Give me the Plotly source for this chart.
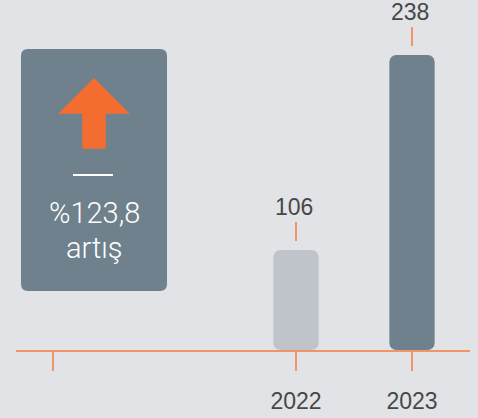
import plotly.graph_objects as go

# ---- data ----
categories = ["2022", "2023"]
values = [106, 238]
value_labels = ["106", "238"]
bar_colors = ["#bfc4ca", "#6e818d"]
tick_positions = [-2.095, 0, 1]
tick_labels = ["", "2022", "2023"]
change_label = "%123,8"
change_word = "artış"
Y_MIN = 38.3
Y_MAX = 275.2
X_RANGE = [-2.414, 1.5]

# ---- style ----
W, H = 478, 418
BG = "#e2e3e7"
ORANGE_LINE = "#f0956a"
ARROW = "#f36d30"
TEXT = "#474747"
SLATE = "#6e818d"
FONT = "Liberation Sans, Arial, sans-serif"


def px(x):
    return x / W


def py(y):
    return 1 - y / H


def rrect(x0, y0, x1, y1, r):
    pts = [
        ("M", [(x0 + r, y0)]), ("L", [(x1 - r, y0)]), ("Q", [(x1, y0), (x1, y0 + r)]),
        ("L", [(x1, y1 - r)]), ("Q", [(x1, y1), (x1 - r, y1)]), ("L", [(x0 + r, y1)]),
        ("Q", [(x0, y1), (x0, y1 - r)]), ("L", [(x0, y0 + r)]), ("Q", [(x0, y0), (x0 + r, y0)]),
    ]
    s = ""
    for cmd, ps in pts:
        s += cmd + " " + " ".join(f"{px(a):.5f},{py(b):.5f}" for a, b in ps) + " "
    return s + "Z"


def poly(points):
    return "M " + " L ".join(f"{px(a):.5f},{py(b):.5f}" for a, b in points) + " Z"


fig = go.Figure(
    go.Bar(
        x=categories,
        y=[v - Y_MIN for v in values],
        base=Y_MIN,
        marker=dict(color=bar_colors, line=dict(width=0), cornerradius=7),
        width=0.39,
        hoverinfo="skip",
    )
)

shapes = []
annotations = []

# value labels with small orange connectors (category index on the x axis)
for i, (v, lab) in enumerate(zip(values, value_labels)):
    shapes.append(dict(
        type="line", xref="x", yref="y", ysizemode="pixel", yanchor=v,
        x0=i, x1=i, y0=9, y1=28,
        line=dict(color=ORANGE_LINE, width=2),
    ))
    annotations.append(dict(
        x=i, y=v, xref="x", yref="y", text=lab, showarrow=False,
        xanchor="center", yanchor="middle", yshift=43, xshift=-2,
        font=dict(size=23, color=TEXT, family=FONT),
    ))

# left info box
shapes.append(dict(type="path", xref="paper", yref="paper",
                   path=rrect(21, 49, 167, 291, 7), fillcolor=SLATE, line=dict(width=0), layer="above"))
shapes.append(dict(type="path", xref="paper", yref="paper",
                   path=poly([(94, 79), (128, 113), (105, 113), (105, 148), (83, 148), (83, 113), (60, 113)]),
                   fillcolor=ARROW, line=dict(color=ARROW, width=1.5), layer="above"))
shapes.append(dict(type="line", xref="paper", yref="paper",
                   x0=px(73), x1=px(113), y0=py(175), y1=py(175),
                   line=dict(color="white", width=2), layer="above"))
annotations.append(dict(x=px(94), y=py(213), xref="paper", yref="paper", text=change_label,
                        xanchor="center", yanchor="middle", showarrow=False,
                        font=dict(size=29, color="white", family="Roboto", weight=300)))
annotations.append(dict(x=px(94), y=py(248), xref="paper", yref="paper", text=change_word,
                        xanchor="center", yanchor="middle", showarrow=False,
                        font=dict(size=29, color="white", family="Roboto", weight=300)))

fig.update_layout(
    width=W, height=H,
    margin=dict(l=0, r=0, t=0, b=0),
    paper_bgcolor=BG, plot_bgcolor=BG,
    showlegend=False,
    shapes=shapes,
    annotations=annotations,
    xaxis=dict(
        domain=[16 / W, 470 / W], range=X_RANGE, type="category",
        showline=True, linecolor=ORANGE_LINE, linewidth=2,
        ticks="outside", ticklen=19, tickwidth=2, tickcolor=ORANGE_LINE,
        tickmode="array", tickvals=tick_positions, ticktext=tick_labels,
        ticklabelstandoff=10,
        tickfont=dict(size=23, color=TEXT, family=FONT),
        showgrid=False, zeroline=False, fixedrange=True,
    ),
    yaxis=dict(
        domain=[68 / H, 1], range=[Y_MIN, Y_MAX],
        visible=False, showgrid=False, zeroline=False, fixedrange=True,
    ),
)

fig.write_html(
    "out.html",
    config={"displayModeBar": False},
    post_script="document.body.style.margin='0';document.body.style.overflow='hidden';",
)
